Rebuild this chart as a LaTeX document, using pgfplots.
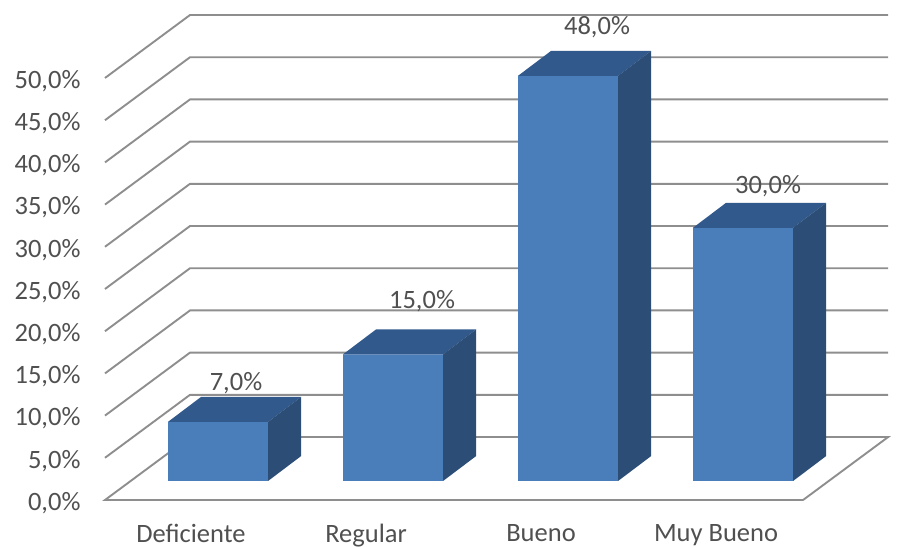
\documentclass[border=0pt]{standalone}
\usepackage{pgfplots}
\usepackage{fontspec}
\setmainfont{Carlito}
\pgfplotsset{compat=1.18}
\definecolor{barfront}{HTML}{4A7EBB}
\definecolor{bartop}{HTML}{31598C}
\definecolor{barside}{HTML}{2C4D75}
\definecolor{gridgray}{HTML}{8E8E8E}
\definecolor{labelgray}{HTML}{505050}
\pgfplotsset{
  panel/.style={
    scale only axis,
    xmin=-0.6457, xmax=3.954,
    width=805pt,
    axis line style={draw=none},
    tick style={draw=none},
    clip=false,
    tick label style={font=\fontsize{26.5}{28}\selectfont, text=labelgray},
  },
  wall/.style={draw=gridgray, line width=1.9pt, mark=none},
}
\begin{document}
\begin{tikzpicture}[x=1pt,y=1pt]
\path[use as bounding box] (0,0) rectangle (910,548);

% Floor and wall gridlines: left wall, back wall, one line per 5 %
\begin{axis}[panel,
    at={(105pt,48pt)}, anchor=south west,
    height=500pt, ymin=0, ymax=59.24,
    ytick={0,5,...,50},
    yticklabels={{0,0\%},{5,0\%},{10,0\%},{15,0\%},{20,0\%},{25,0\%},{30,0\%},{35,0\%},{40,0\%},{45,0\%},{50,0\%}},
    yticklabel style={xshift=-21pt, yshift=-3pt, anchor=east},
    xtick={0,1,2,3},
    xticklabels={Deficiente,Regular,Bueno,Muy Bueno},
    xticklabel style={xshift=-27pt, yshift=-24pt, inner sep=0pt},
  ]
  \addplot[wall] coordinates {(3.343,0) (-0.6457,0) (-0.16,7.46) (3.829,7.46) (3.343,0)};
  \addplot[wall] coordinates {(-0.6457,5)  (-0.16,12.46) (3.829,12.46)};
  \addplot[wall] coordinates {(-0.6457,10) (-0.16,17.46) (3.829,17.46)};
  \addplot[wall] coordinates {(-0.6457,15) (-0.16,22.46) (3.829,22.46)};
  \addplot[wall] coordinates {(-0.6457,20) (-0.16,27.46) (3.829,27.46)};
  \addplot[wall] coordinates {(-0.6457,25) (-0.16,32.46) (3.829,32.46)};
  \addplot[wall] coordinates {(-0.6457,30) (-0.16,37.46) (3.829,37.46)};
  \addplot[wall] coordinates {(-0.6457,35) (-0.16,42.46) (3.829,42.46)};
  \addplot[wall] coordinates {(-0.6457,40) (-0.16,47.46) (3.829,47.46)};
  \addplot[wall] coordinates {(-0.6457,45) (-0.16,52.46) (3.829,52.46)};
  \addplot[wall] coordinates {(-0.6457,50) (-0.16,57.46) (3.829,57.46)};
\end{axis}

% Bars: front faces from the values, top and side faces as parallelograms
\begin{axis}[panel,
    at={(105pt,67pt)}, anchor=south west,
    height=481pt, ymin=0, ymax=56.99,
    xtick=\empty, ytick=\empty,
  ]
  \addplot[ybar, bar width=100pt, bar shift=0pt, fill=barfront, draw=none]
    coordinates {(0,7) (1,15) (2,48) (3,30)};

  \addplot[fill=bartop, draw=none] coordinates {(-0.286,7) (0.286,7) (0.475,9.96) (-0.097,9.96)} -- cycle;
  \addplot[fill=barside, draw=none] coordinates {(0.286,0) (0.475,2.96) (0.475,9.96) (0.286,7)} -- cycle;

  \addplot[fill=bartop, draw=none] coordinates {(0.714,15) (1.286,15) (1.475,17.96) (0.903,17.96)} -- cycle;
  \addplot[fill=barside, draw=none] coordinates {(1.286,0) (1.475,2.96) (1.475,17.96) (1.286,15)} -- cycle;

  \addplot[fill=bartop, draw=none] coordinates {(1.714,48) (2.286,48) (2.475,50.96) (1.903,50.96)} -- cycle;
  \addplot[fill=barside, draw=none] coordinates {(2.286,0) (2.475,2.96) (2.475,50.96) (2.286,48)} -- cycle;

  \addplot[fill=bartop, draw=none] coordinates {(2.714,30) (3.286,30) (3.475,32.96) (2.903,32.96)} -- cycle;
  \addplot[fill=barside, draw=none] coordinates {(3.286,0) (3.475,2.96) (3.475,32.96) (3.286,30)} -- cycle;

  % Value labels, each placed above its own bar
  \begin{scope}[every node/.style={font=\fontsize{26.5}{28}\selectfont, text=labelgray}]
    \node[xshift=18pt, yshift=39pt] at (axis cs:0,7)  {7,0\%};
    \node[xshift=29pt, yshift=53pt] at (axis cs:1,15) {15,0\%};
    \node[xshift=29pt, yshift=49pt] at (axis cs:2,48) {48,0\%};
    \node[xshift=25pt, yshift=42pt] at (axis cs:3,30) {30,0\%};
  \end{scope}
\end{axis}
\end{tikzpicture}
\end{document}
